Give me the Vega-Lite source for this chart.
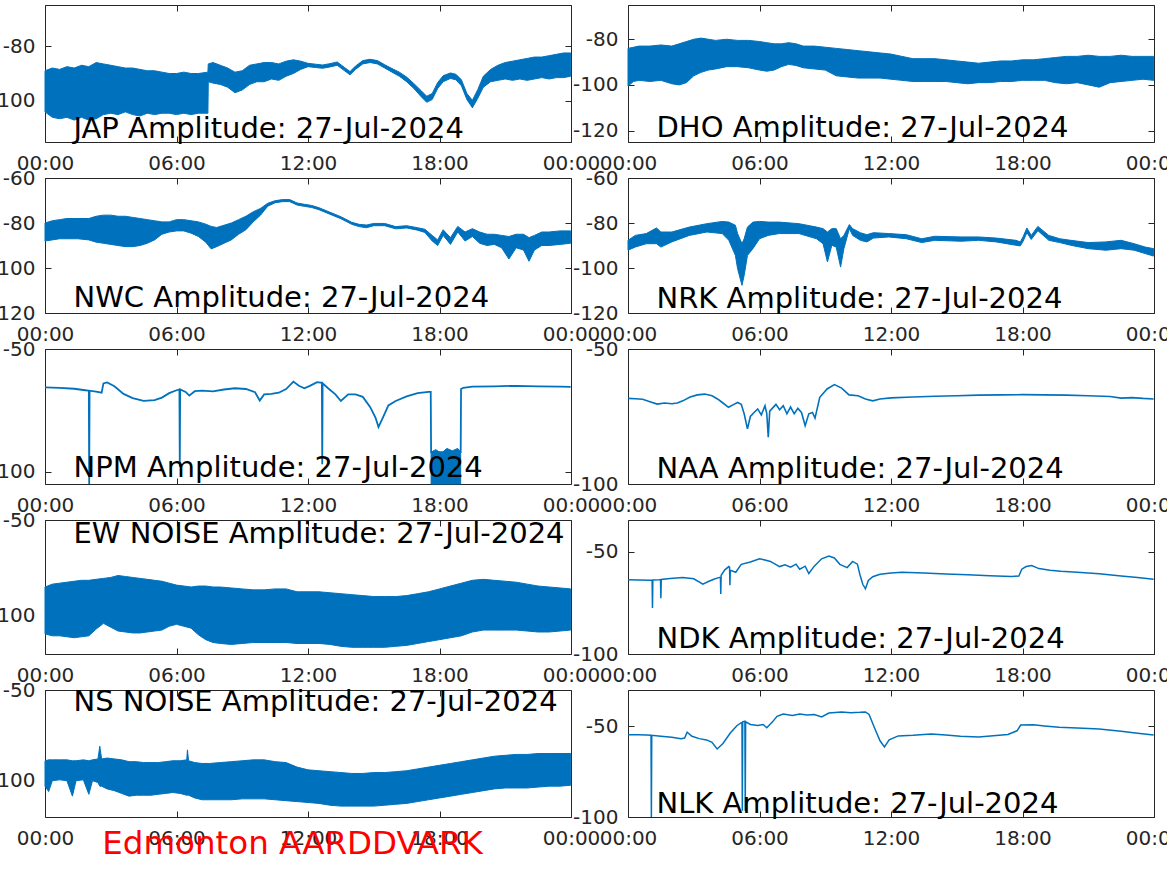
{
"$schema":"https://vega.github.io/schema/vega-lite/v6.json",
"background":"white",
"padding":{"left":-11,"top":4,"right":-15,"bottom":0},
"config":{
 "view":{"stroke":"#262626","strokeWidth":1},
 "axis":{"domain":false,"grid":false,"ticks":true,"tickSize":-6,"tickColor":"#262626","tickWidth":1,"labelFont":"DejaVu Sans","labelFontSize":20,"labelColor":"#262626","labelPadding":16},
 "axisX":{"labelFlush":false,"labelOverlap":false,"labelPadding":17}
},
"datasets":{
"jap":[{"t":"00:00","lo":-104,"hi":-89},{"t":"00:20","lo":-106,"hi":-88},{"t":"00:40","lo":-106.5,"hi":-88.5},{"t":"01:00","lo":-106,"hi":-87.5},{"t":"01:20","lo":-107,"hi":-88},{"t":"01:40","lo":-106,"hi":-87},{"t":"02:00","lo":-107,"hi":-87.5},{"t":"02:20","lo":-106.5,"hi":-86},{"t":"02:40","lo":-105,"hi":-86.5},{"t":"03:00","lo":-104.5,"hi":-87},{"t":"03:20","lo":-105,"hi":-87.5},{"t":"03:40","lo":-104,"hi":-88},{"t":"04:00","lo":-105,"hi":-88},{"t":"04:20","lo":-105.5,"hi":-88.5},{"t":"04:40","lo":-104.5,"hi":-89},{"t":"05:00","lo":-105,"hi":-89},{"t":"05:20","lo":-104.5,"hi":-89.5},{"t":"05:40","lo":-104.5,"hi":-90},{"t":"06:00","lo":-105,"hi":-90},{"t":"06:20","lo":-104.5,"hi":-89.5},{"t":"06:40","lo":-105,"hi":-90},{"t":"07:00","lo":-104.5,"hi":-90},{"t":"07:26","lo":-104.5,"hi":-89.5},{"t":"07:27","lo":-93,"hi":-86.5},{"t":"07:40","lo":-93.5,"hi":-86},{"t":"08:00","lo":-94,"hi":-87},{"t":"08:20","lo":-95,"hi":-88},{"t":"08:40","lo":-97,"hi":-89.5},{"t":"09:00","lo":-96,"hi":-89},{"t":"09:20","lo":-94,"hi":-87},{"t":"09:40","lo":-93,"hi":-86.5},{"t":"10:00","lo":-93,"hi":-86},{"t":"10:20","lo":-92,"hi":-86},{"t":"10:40","lo":-92.5,"hi":-86.5},{"t":"11:00","lo":-91,"hi":-85.5},{"t":"11:20","lo":-90,"hi":-85},{"t":"11:40","lo":-88.5,"hi":-85.5},{"t":"12:00","lo":-87.5,"hi":-86.3},{"t":"12:20","lo":-87.8,"hi":-86.6},{"t":"12:40","lo":-88.1,"hi":-86.9},{"t":"13:00","lo":-87.6,"hi":-86.4},{"t":"13:20","lo":-87,"hi":-85.8},{"t":"13:40","lo":-89,"hi":-87.8},{"t":"13:55","lo":-90.5,"hi":-89.3},{"t":"14:10","lo":-88.5,"hi":-87.3},{"t":"14:30","lo":-86.5,"hi":-85.3},{"t":"14:50","lo":-86,"hi":-84.8},{"t":"15:10","lo":-86.5,"hi":-85.3},{"t":"15:30","lo":-88,"hi":-86.8},{"t":"15:50","lo":-89.5,"hi":-88.2},{"t":"16:10","lo":-91,"hi":-89.5},{"t":"16:30","lo":-93,"hi":-91.3},{"t":"16:50","lo":-95.5,"hi":-93.7},{"t":"17:10","lo":-98.5,"hi":-96.3},{"t":"17:25","lo":-100.5,"hi":-98.3},{"t":"17:40","lo":-99.5,"hi":-97.3},{"t":"17:55","lo":-95.5,"hi":-93.3},{"t":"18:10","lo":-93,"hi":-90.8},{"t":"18:30","lo":-91.8,"hi":-89.8},{"t":"18:45","lo":-92.3,"hi":-90.3},{"t":"19:00","lo":-94.5,"hi":-92.3},{"t":"19:15","lo":-99.5,"hi":-97.3},{"t":"19:30","lo":-102.5,"hi":-99.8},{"t":"19:45","lo":-99,"hi":-95.8},{"t":"20:00","lo":-95,"hi":-91},{"t":"20:20","lo":-93,"hi":-88.5},{"t":"20:40","lo":-92.5,"hi":-87},{"t":"21:00","lo":-92,"hi":-86},{"t":"21:20","lo":-92.5,"hi":-85.5},{"t":"21:40","lo":-92,"hi":-85},{"t":"22:00","lo":-92.5,"hi":-84.5},{"t":"22:20","lo":-92,"hi":-84},{"t":"22:40","lo":-91.5,"hi":-84},{"t":"23:00","lo":-92,"hi":-83.5},{"t":"23:20","lo":-91.5,"hi":-83},{"t":"23:40","lo":-91.5,"hi":-82.5},{"t":"23:59","lo":-91,"hi":-82.5}],
"dho":[{"t":"00:00","lo":-100.5,"hi":-84},{"t":"00:15","lo":-98.5,"hi":-83.5},{"t":"00:30","lo":-98,"hi":-83},{"t":"01:00","lo":-98.5,"hi":-83},{"t":"01:30","lo":-98,"hi":-82.5},{"t":"02:00","lo":-99.5,"hi":-83},{"t":"02:20","lo":-100,"hi":-82},{"t":"02:40","lo":-99,"hi":-81},{"t":"03:00","lo":-96,"hi":-80},{"t":"03:20","lo":-94.5,"hi":-79.5},{"t":"03:40","lo":-93.5,"hi":-80},{"t":"04:00","lo":-93,"hi":-80.5},{"t":"04:30","lo":-92,"hi":-80},{"t":"05:00","lo":-92,"hi":-80.5},{"t":"05:30","lo":-92.5,"hi":-80.5},{"t":"06:00","lo":-93.5,"hi":-81},{"t":"06:20","lo":-94,"hi":-81.5},{"t":"06:40","lo":-93.5,"hi":-82},{"t":"07:00","lo":-92,"hi":-82},{"t":"07:20","lo":-91,"hi":-81.5},{"t":"07:40","lo":-91.5,"hi":-82},{"t":"08:00","lo":-92.5,"hi":-83},{"t":"08:30","lo":-93,"hi":-83},{"t":"09:00","lo":-93.5,"hi":-83.5},{"t":"09:30","lo":-96,"hi":-84},{"t":"10:00","lo":-96.5,"hi":-84.5},{"t":"10:30","lo":-97,"hi":-85},{"t":"11:00","lo":-97,"hi":-85.5},{"t":"11:30","lo":-97,"hi":-86},{"t":"12:00","lo":-97.5,"hi":-86.5},{"t":"12:30","lo":-98,"hi":-87.5},{"t":"13:00","lo":-98.5,"hi":-88.5},{"t":"13:30","lo":-98.5,"hi":-88.5},{"t":"14:00","lo":-98.5,"hi":-88.5},{"t":"14:30","lo":-98.5,"hi":-89},{"t":"15:00","lo":-99,"hi":-89.5},{"t":"15:30","lo":-99.5,"hi":-90},{"t":"16:00","lo":-99,"hi":-90.5},{"t":"16:30","lo":-99,"hi":-90},{"t":"17:00","lo":-98.5,"hi":-89.5},{"t":"17:30","lo":-98.5,"hi":-89.5},{"t":"18:00","lo":-98,"hi":-89},{"t":"18:30","lo":-98,"hi":-89},{"t":"19:00","lo":-98,"hi":-88.5},{"t":"19:30","lo":-99,"hi":-88},{"t":"20:00","lo":-99.5,"hi":-87.5},{"t":"20:30","lo":-99,"hi":-87.5},{"t":"21:00","lo":-100,"hi":-87},{"t":"21:30","lo":-101,"hi":-87.5},{"t":"22:00","lo":-99,"hi":-87.5},{"t":"22:30","lo":-98.5,"hi":-87},{"t":"23:00","lo":-98,"hi":-87.5},{"t":"23:30","lo":-97.5,"hi":-87.5},{"t":"23:59","lo":-98,"hi":-87.5}],
"nwc":[{"t":"00:00","lo":-88,"hi":-80},{"t":"00:20","lo":-87.5,"hi":-79},{"t":"00:40","lo":-87,"hi":-78.5},{"t":"01:00","lo":-87,"hi":-78},{"t":"01:30","lo":-87,"hi":-78},{"t":"02:00","lo":-87.5,"hi":-78},{"t":"02:20","lo":-88.5,"hi":-77},{"t":"02:40","lo":-89,"hi":-76.5},{"t":"03:00","lo":-89.5,"hi":-76.5},{"t":"03:20","lo":-90,"hi":-77},{"t":"03:40","lo":-90.5,"hi":-77},{"t":"04:00","lo":-90.5,"hi":-77.5},{"t":"04:20","lo":-90,"hi":-78},{"t":"04:40","lo":-89,"hi":-78.5},{"t":"05:00","lo":-87.5,"hi":-79},{"t":"05:20","lo":-85,"hi":-79.5},{"t":"05:40","lo":-84,"hi":-79.5},{"t":"06:00","lo":-83.5,"hi":-78.5},{"t":"06:20","lo":-83.5,"hi":-78.5},{"t":"06:40","lo":-84.5,"hi":-79},{"t":"07:00","lo":-86,"hi":-79.5},{"t":"07:20","lo":-88.5,"hi":-80.5},{"t":"07:35","lo":-91.5,"hi":-81.5},{"t":"07:50","lo":-90.5,"hi":-82},{"t":"08:10","lo":-89,"hi":-81},{"t":"08:30","lo":-87.5,"hi":-80},{"t":"08:50","lo":-85,"hi":-78.5},{"t":"09:10","lo":-83,"hi":-77},{"t":"09:30","lo":-79.5,"hi":-75},{"t":"09:50","lo":-76.5,"hi":-73.5},{"t":"10:10","lo":-72.5,"hi":-71.2},{"t":"10:30","lo":-71,"hi":-70.1},{"t":"10:50","lo":-70.5,"hi":-69.6},{"t":"11:10","lo":-70.5,"hi":-69.6},{"t":"11:30","lo":-72,"hi":-71.1},{"t":"11:50","lo":-72.6,"hi":-71.7},{"t":"12:10","lo":-73.1,"hi":-72.2},{"t":"12:30","lo":-74.1,"hi":-73.2},{"t":"13:00","lo":-76.1,"hi":-75.2},{"t":"13:30","lo":-78.1,"hi":-77.2},{"t":"14:00","lo":-80.6,"hi":-79.7},{"t":"14:20","lo":-81.6,"hi":-80.6},{"t":"14:40","lo":-82.1,"hi":-80.9},{"t":"15:00","lo":-81.2,"hi":-80.2},{"t":"15:30","lo":-81.2,"hi":-80.2},{"t":"16:00","lo":-82.6,"hi":-81.6},{"t":"16:30","lo":-82.2,"hi":-81.2},{"t":"17:00","lo":-83.2,"hi":-82.1},{"t":"17:20","lo":-84.2,"hi":-82.8},{"t":"17:40","lo":-88,"hi":-85.5},{"t":"17:55","lo":-90,"hi":-87.5},{"t":"18:10","lo":-85.5,"hi":-83},{"t":"18:30","lo":-89.5,"hi":-86.5},{"t":"18:50","lo":-84,"hi":-81.5},{"t":"19:10","lo":-88,"hi":-84},{"t":"19:30","lo":-86,"hi":-82.5},{"t":"19:50","lo":-89,"hi":-84},{"t":"20:10","lo":-90,"hi":-85},{"t":"20:30","lo":-89.5,"hi":-85},{"t":"20:50","lo":-91,"hi":-85.5},{"t":"21:10","lo":-96,"hi":-86},{"t":"21:30","lo":-91,"hi":-85},{"t":"21:50","lo":-92,"hi":-85},{"t":"22:05","lo":-97,"hi":-86.5},{"t":"22:20","lo":-92,"hi":-85.5},{"t":"22:40","lo":-90,"hi":-84},{"t":"23:00","lo":-90,"hi":-84},{"t":"23:30","lo":-89.5,"hi":-83.5},{"t":"23:59","lo":-89,"hi":-83.5}],
"nrk":[{"t":"00:00","lo":-92.1,"hi":-87.7},{"t":"00:20","lo":-90.7,"hi":-85.5},{"t":"00:50","lo":-89.2,"hi":-84.7},{"t":"01:18","lo":-89.2,"hi":-82.2},{"t":"01:30","lo":-90.7,"hi":-84},{"t":"02:00","lo":-88.4,"hi":-84},{"t":"02:48","lo":-85.5,"hi":-81.8},{"t":"03:36","lo":-84,"hi":-80.3},{"t":"04:18","lo":-84.7,"hi":-79.3},{"t":"04:36","lo":-87.7,"hi":-79.6},{"t":"04:54","lo":-94.4,"hi":-81},{"t":"05:00","lo":-100.3,"hi":-84.7},{"t":"05:12","lo":-107.7,"hi":-89.2},{"t":"05:18","lo":-103.3,"hi":-87},{"t":"05:27","lo":-94.4,"hi":-81.8},{"t":"05:42","lo":-91.4,"hi":-79.6},{"t":"06:00","lo":-87,"hi":-79.3},{"t":"06:24","lo":-85.5,"hi":-79.6},{"t":"06:54","lo":-84.7,"hi":-79.6},{"t":"07:48","lo":-84.7,"hi":-80.3},{"t":"08:36","lo":-87,"hi":-81.8},{"t":"08:54","lo":-89.2,"hi":-82.5},{"t":"09:06","lo":-97.3,"hi":-84},{"t":"09:18","lo":-89.9,"hi":-82.5},{"t":"09:30","lo":-90.7,"hi":-82.5},{"t":"09:42","lo":-99.6,"hi":-87},{"t":"09:51","lo":-91.4,"hi":-85.5},{"t":"10:06","lo":-82.5,"hi":-80.7},{"t":"10:15","lo":-85.5,"hi":-82.5},{"t":"10:36","lo":-87.7,"hi":-84.3},{"t":"10:54","lo":-88.4,"hi":-85.2},{"t":"11:12","lo":-86.7,"hi":-84.3},{"t":"11:54","lo":-86.2,"hi":-84.7},{"t":"12:42","lo":-87,"hi":-85.2},{"t":"13:24","lo":-88.7,"hi":-87},{"t":"14:00","lo":-87.7,"hi":-85.9},{"t":"15:12","lo":-88.1,"hi":-86.2},{"t":"16:00","lo":-87.7,"hi":-86.2},{"t":"16:48","lo":-88.4,"hi":-86.7},{"t":"17:42","lo":-89.9,"hi":-87.7},{"t":"17:54","lo":-90.2,"hi":-88.4},{"t":"18:02","lo":-88,"hi":-86},{"t":"18:12","lo":-84.3,"hi":-82.2},{"t":"18:24","lo":-87.3,"hi":-85.5},{"t":"18:42","lo":-83.4,"hi":-81.5},{"t":"19:12","lo":-87.7,"hi":-85.5},{"t":"19:42","lo":-88.7,"hi":-87},{"t":"20:12","lo":-89.9,"hi":-87.7},{"t":"21:00","lo":-91.4,"hi":-88.7},{"t":"21:48","lo":-92.1,"hi":-88.4},{"t":"22:30","lo":-91.4,"hi":-87.7},{"t":"23:06","lo":-92.1,"hi":-89.2},{"t":"23:36","lo":-93.6,"hi":-90.7},{"t":"23:59","lo":-94.7,"hi":-91.4}],
"npm":[{"t":"00:00","v":-65.6},{"t":"00:40","v":-65.8},{"t":"01:20","v":-66.2},{"t":"01:50","v":-66.8},{"t":"02:00","v":-67},{"t":"02:01","v":-105},{"t":"02:02","v":-67},{"t":"02:20","v":-67.4},{"t":"02:35","v":-67.8},{"t":"02:40","v":-64},{"t":"02:50","v":-63.6},{"t":"03:10","v":-65.2},{"t":"03:35","v":-68.3},{"t":"04:00","v":-70},{"t":"04:30","v":-71.1},{"t":"05:00","v":-70.8},{"t":"05:20","v":-69.8},{"t":"05:40","v":-68},{"t":"06:00","v":-66.8},{"t":"06:08","v":-66.5},{"t":"06:09","v":-98},{"t":"06:10","v":-66.5},{"t":"06:25","v":-67.5},{"t":"06:35","v":-69},{"t":"06:50","v":-67.2},{"t":"07:10","v":-67},{"t":"07:40","v":-67.3},{"t":"08:10","v":-66.5},{"t":"08:40","v":-66},{"t":"09:10","v":-66.3},{"t":"09:35","v":-67.6},{"t":"09:48","v":-71},{"t":"10:00","v":-68.5},{"t":"10:20","v":-68.3},{"t":"10:40","v":-67.8},{"t":"11:00","v":-66.3},{"t":"11:20","v":-63.3},{"t":"11:35","v":-65},{"t":"11:50","v":-66},{"t":"12:05","v":-65},{"t":"12:25","v":-63.5},{"t":"12:38","v":-63.8},{"t":"12:39","v":-97},{"t":"12:40","v":-64},{"t":"12:55","v":-66},{"t":"13:15","v":-68.5},{"t":"13:30","v":-71.2},{"t":"13:50","v":-68.5},{"t":"14:10","v":-68.5},{"t":"14:30","v":-69.5},{"t":"14:50","v":-73.6},{"t":"15:05","v":-78},{"t":"15:13","v":-81.8},{"t":"15:25","v":-78},{"t":"15:40","v":-73},{"t":"16:00","v":-71.2},{"t":"16:30","v":-69.3},{"t":"17:00","v":-68},{"t":"17:30","v":-67.5},{"t":"17:36","v":-67.5},{"t":"17:37","v":-92},{"t":"18:58","v":-92},{"t":"18:59","v":-66.3},{"t":"19:05","v":-65.8},{"t":"19:30","v":-65.3},{"t":"20:30","v":-65.2},{"t":"21:30","v":-65},{"t":"22:30","v":-65.2},{"t":"23:30","v":-65.3},{"t":"23:59","v":-65.4},{"t":"17:37","lo":-105,"hi":-92},{"t":"17:50","lo":-105,"hi":-91},{"t":"18:05","lo":-105,"hi":-92.5},{"t":"18:20","lo":-105,"hi":-90.5},{"t":"18:35","lo":-105,"hi":-91.5},{"t":"18:50","lo":-105,"hi":-90.5},{"t":"18:58","lo":-105,"hi":-92}],
"naa":[{"t":"00:00","v":-68.3},{"t":"00:20","v":-68.4},{"t":"00:40","v":-68.6},{"t":"01:00","v":-69.5},{"t":"01:20","v":-70.4},{"t":"01:40","v":-70},{"t":"02:00","v":-70.3},{"t":"02:15","v":-70},{"t":"02:30","v":-69.2},{"t":"02:50","v":-67.8},{"t":"03:10","v":-67},{"t":"03:30","v":-66.7},{"t":"03:50","v":-67.3},{"t":"04:05","v":-68.5},{"t":"04:20","v":-70},{"t":"04:35","v":-71.6},{"t":"04:50","v":-70.5},{"t":"05:00","v":-69.8},{"t":"05:10","v":-70.5},{"t":"05:18","v":-74},{"t":"05:27","v":-79.6},{"t":"05:35","v":-75},{"t":"05:45","v":-73.5},{"t":"05:55","v":-72.2},{"t":"06:05","v":-74.4},{"t":"06:15","v":-71},{"t":"06:20","v":-74},{"t":"06:24","v":-82.7},{"t":"06:28","v":-73},{"t":"06:35","v":-72},{"t":"06:45","v":-70.5},{"t":"06:55","v":-72.5},{"t":"07:05","v":-71},{"t":"07:15","v":-74},{"t":"07:25","v":-71.5},{"t":"07:35","v":-74},{"t":"07:45","v":-72},{"t":"07:55","v":-73.5},{"t":"08:05","v":-78.4},{"t":"08:15","v":-74},{"t":"08:25","v":-73.5},{"t":"08:32","v":-75.6},{"t":"08:45","v":-67.9},{"t":"09:05","v":-64.8},{"t":"09:25","v":-63.2},{"t":"09:45","v":-64.5},{"t":"10:05","v":-67},{"t":"10:30","v":-67.3},{"t":"10:50","v":-68.5},{"t":"11:10","v":-69.2},{"t":"11:30","v":-68.5},{"t":"12:00","v":-68.1},{"t":"13:00","v":-67.8},{"t":"14:00","v":-67.5},{"t":"15:00","v":-67.3},{"t":"16:00","v":-67.1},{"t":"17:00","v":-67},{"t":"18:00","v":-66.9},{"t":"19:00","v":-67},{"t":"20:00","v":-67.1},{"t":"21:00","v":-67.3},{"t":"22:00","v":-67.6},{"t":"22:30","v":-68.2},{"t":"23:00","v":-68},{"t":"23:30","v":-68.3},{"t":"23:59","v":-68.5}],
"ew":[{"t":"00:00","lo":-109.5,"hi":-85},{"t":"00:20","lo":-110.5,"hi":-83.5},{"t":"00:40","lo":-110.5,"hi":-83},{"t":"01:00","lo":-111,"hi":-82.5},{"t":"01:20","lo":-111.5,"hi":-82},{"t":"01:40","lo":-111,"hi":-81.5},{"t":"02:00","lo":-110.5,"hi":-81.5},{"t":"02:20","lo":-107,"hi":-81},{"t":"02:40","lo":-104,"hi":-80.5},{"t":"03:00","lo":-106,"hi":-80},{"t":"03:20","lo":-108,"hi":-79},{"t":"03:40","lo":-108.5,"hi":-79.5},{"t":"04:00","lo":-109,"hi":-80},{"t":"04:20","lo":-109,"hi":-80.5},{"t":"04:40","lo":-108.5,"hi":-81},{"t":"05:00","lo":-108,"hi":-81.5},{"t":"05:20","lo":-107.5,"hi":-82},{"t":"05:40","lo":-105.5,"hi":-83},{"t":"06:00","lo":-104.5,"hi":-84},{"t":"06:20","lo":-105.5,"hi":-84.5},{"t":"06:40","lo":-106.5,"hi":-85},{"t":"07:00","lo":-110,"hi":-84.5},{"t":"07:20","lo":-112.5,"hi":-84.5},{"t":"07:40","lo":-114,"hi":-85},{"t":"08:00","lo":-114.5,"hi":-85},{"t":"08:30","lo":-115,"hi":-85.5},{"t":"09:00","lo":-114.5,"hi":-86},{"t":"09:30","lo":-114,"hi":-86.5},{"t":"10:00","lo":-114,"hi":-86.5},{"t":"10:30","lo":-114,"hi":-86},{"t":"11:00","lo":-114,"hi":-86},{"t":"11:30","lo":-114.5,"hi":-87.5},{"t":"12:00","lo":-114.5,"hi":-87.5},{"t":"12:30","lo":-114.5,"hi":-87.5},{"t":"13:00","lo":-115,"hi":-88},{"t":"13:30","lo":-116,"hi":-88.5},{"t":"14:00","lo":-116.5,"hi":-89},{"t":"14:30","lo":-116.5,"hi":-89.5},{"t":"15:00","lo":-116.5,"hi":-90},{"t":"15:30","lo":-116.5,"hi":-90},{"t":"16:00","lo":-116,"hi":-90},{"t":"16:30","lo":-115.5,"hi":-89.5},{"t":"17:00","lo":-114.5,"hi":-88.5},{"t":"17:30","lo":-113.5,"hi":-87.5},{"t":"18:00","lo":-112.5,"hi":-86},{"t":"18:30","lo":-111.5,"hi":-84.5},{"t":"19:00","lo":-110.5,"hi":-83},{"t":"19:30","lo":-108.5,"hi":-81.5},{"t":"20:00","lo":-107.5,"hi":-81},{"t":"20:30","lo":-107.5,"hi":-81.5},{"t":"21:00","lo":-107.5,"hi":-82},{"t":"21:30","lo":-107.5,"hi":-82.5},{"t":"22:00","lo":-108,"hi":-83.5},{"t":"22:30","lo":-108.5,"hi":-84.5},{"t":"23:00","lo":-108.5,"hi":-85},{"t":"23:30","lo":-108,"hi":-85.5},{"t":"23:59","lo":-107.5,"hi":-86}],
"ndk":[{"t":"00:00","v":-63.7},{"t":"00:30","v":-63.8},{"t":"01:00","v":-63.9},{"t":"01:06","v":-63.9},{"t":"01:07","v":-77.5},{"t":"01:08","v":-63.8},{"t":"01:25","v":-63.7},{"t":"01:29","v":-63.6},{"t":"01:30","v":-72.7},{"t":"01:31","v":-63.5},{"t":"01:55","v":-63},{"t":"02:30","v":-62.5},{"t":"03:00","v":-63.2},{"t":"03:25","v":-65.8},{"t":"03:40","v":-64.5},{"t":"03:55","v":-63.4},{"t":"04:10","v":-62.5},{"t":"04:13","v":-62.5},{"t":"04:14","v":-70.6},{"t":"04:15","v":-61.5},{"t":"04:25","v":-58.8},{"t":"04:36","v":-57.2},{"t":"04:38","v":-57.5},{"t":"04:39","v":-66.3},{"t":"04:40","v":-59},{"t":"04:55","v":-60},{"t":"05:10","v":-56.1},{"t":"05:35","v":-55},{"t":"06:00","v":-53.4},{"t":"06:15","v":-54},{"t":"06:30","v":-54.7},{"t":"06:55","v":-57.2},{"t":"07:10","v":-56.3},{"t":"07:25","v":-57.5},{"t":"07:40","v":-56},{"t":"07:50","v":-58.5},{"t":"08:05","v":-57},{"t":"08:15","v":-60.6},{"t":"08:30","v":-57},{"t":"08:50","v":-53.4},{"t":"09:10","v":-52.1},{"t":"09:25","v":-53},{"t":"09:40","v":-56.1},{"t":"10:00","v":-57.7},{"t":"10:15","v":-54.7},{"t":"10:28","v":-56},{"t":"10:35","v":-61.2},{"t":"10:43","v":-66},{"t":"10:50","v":-68.1},{"t":"10:58","v":-64},{"t":"11:10","v":-62.2},{"t":"11:30","v":-61},{"t":"12:00","v":-60.3},{"t":"12:30","v":-60},{"t":"13:30","v":-60.3},{"t":"14:30","v":-60.8},{"t":"15:30","v":-61.2},{"t":"16:30","v":-61.7},{"t":"17:30","v":-62},{"t":"17:50","v":-61.8},{"t":"17:58","v":-58.5},{"t":"18:10","v":-57.2},{"t":"18:25","v":-56.7},{"t":"18:45","v":-58.2},{"t":"19:15","v":-59},{"t":"19:45","v":-59.5},{"t":"20:30","v":-60},{"t":"21:30","v":-60.7},{"t":"22:30","v":-61.8},{"t":"23:15","v":-62.6},{"t":"23:59","v":-63.4}],
"ns":[{"t":"00:00","lo":-103,"hi":-89},{"t":"00:10","lo":-106,"hi":-88.5},{"t":"00:20","lo":-100,"hi":-88.5},{"t":"00:40","lo":-99.5,"hi":-88.5},{"t":"01:00","lo":-100,"hi":-88.5},{"t":"01:15","lo":-108.5,"hi":-89},{"t":"01:25","lo":-100,"hi":-89},{"t":"01:45","lo":-99.5,"hi":-88.5},{"t":"02:00","lo":-107.5,"hi":-89},{"t":"02:10","lo":-100,"hi":-88.5},{"t":"02:25","lo":-101,"hi":-88},{"t":"02:30","lo":-103,"hi":-81},{"t":"02:35","lo":-103,"hi":-88},{"t":"02:50","lo":-104.5,"hi":-87.5},{"t":"03:10","lo":-105.5,"hi":-88},{"t":"03:30","lo":-107,"hi":-88.5},{"t":"03:50","lo":-108.5,"hi":-89.5},{"t":"04:10","lo":-108,"hi":-89.5},{"t":"04:30","lo":-108,"hi":-90},{"t":"04:50","lo":-108,"hi":-90},{"t":"05:10","lo":-107.5,"hi":-90},{"t":"05:30","lo":-107,"hi":-89.5},{"t":"05:50","lo":-106.5,"hi":-89},{"t":"06:10","lo":-107,"hi":-89},{"t":"06:28","lo":-108,"hi":-88.5},{"t":"06:30","lo":-108,"hi":-83},{"t":"06:33","lo":-108,"hi":-89},{"t":"06:50","lo":-109.5,"hi":-90},{"t":"07:10","lo":-110.5,"hi":-90.5},{"t":"07:30","lo":-110.5,"hi":-90.5},{"t":"08:00","lo":-110.5,"hi":-90},{"t":"08:30","lo":-110.5,"hi":-89.5},{"t":"09:00","lo":-110,"hi":-89},{"t":"09:30","lo":-110,"hi":-88.5},{"t":"10:00","lo":-110,"hi":-88.5},{"t":"10:30","lo":-110.5,"hi":-89.5},{"t":"11:00","lo":-111,"hi":-90},{"t":"11:30","lo":-111.5,"hi":-92.5},{"t":"12:00","lo":-112,"hi":-94},{"t":"12:30","lo":-112.5,"hi":-94.5},{"t":"13:00","lo":-113.5,"hi":-95},{"t":"13:30","lo":-114,"hi":-95.5},{"t":"14:00","lo":-114,"hi":-96},{"t":"14:30","lo":-114,"hi":-96},{"t":"15:00","lo":-114,"hi":-95.5},{"t":"15:30","lo":-113.5,"hi":-95.5},{"t":"16:00","lo":-113,"hi":-95},{"t":"16:30","lo":-112.5,"hi":-94.5},{"t":"17:00","lo":-111.5,"hi":-93.5},{"t":"17:30","lo":-110.5,"hi":-92.5},{"t":"18:00","lo":-109.5,"hi":-91.5},{"t":"18:30","lo":-108.5,"hi":-90.5},{"t":"19:00","lo":-107.5,"hi":-89.5},{"t":"19:30","lo":-106.5,"hi":-88.5},{"t":"20:00","lo":-105.5,"hi":-87.5},{"t":"20:30","lo":-104.5,"hi":-86.5},{"t":"21:00","lo":-104,"hi":-86},{"t":"21:30","lo":-104,"hi":-85.5},{"t":"22:00","lo":-104,"hi":-85.5},{"t":"22:30","lo":-103.5,"hi":-85},{"t":"23:00","lo":-103,"hi":-85},{"t":"23:30","lo":-103,"hi":-85},{"t":"23:59","lo":-102.5,"hi":-85}],
"nlk":[{"t":"00:00","v":-54.6},{"t":"00:30","v":-54.7},{"t":"00:50","v":-54.8},{"t":"01:03","v":-54.9},{"t":"01:04","v":-100},{"t":"01:05","v":-55},{"t":"01:30","v":-55.5},{"t":"02:00","v":-56},{"t":"02:25","v":-56.8},{"t":"02:35","v":-56.5},{"t":"02:42","v":-53.3},{"t":"02:55","v":-55.5},{"t":"03:15","v":-56.8},{"t":"03:35","v":-57.5},{"t":"03:50","v":-58.8},{"t":"04:04","v":-62.5},{"t":"04:20","v":-59.5},{"t":"04:40","v":-53.7},{"t":"04:58","v":-49.7},{"t":"05:10","v":-48},{"t":"05:12","v":-48},{"t":"05:13","v":-96.5},{"t":"05:14","v":-47.5},{"t":"05:20","v":-47.2},{"t":"05:21","v":-96.5},{"t":"05:22","v":-47.5},{"t":"05:35","v":-49},{"t":"05:55","v":-49.5},{"t":"06:10","v":-49},{"t":"06:20","v":-50.8},{"t":"06:35","v":-47.7},{"t":"06:48","v":-44.5},{"t":"07:05","v":-43.3},{"t":"07:30","v":-44.1},{"t":"07:50","v":-43.3},{"t":"08:10","v":-43.8},{"t":"08:30","v":-43.5},{"t":"08:50","v":-44.9},{"t":"09:10","v":-42.7},{"t":"09:45","v":-42.1},{"t":"10:10","v":-42.5},{"t":"10:35","v":-42.3},{"t":"10:50","v":-42.1},{"t":"11:00","v":-43.5},{"t":"11:15","v":-50.9},{"t":"11:30","v":-58},{"t":"11:42","v":-61.4},{"t":"11:55","v":-57.5},{"t":"12:20","v":-55.3},{"t":"13:00","v":-55},{"t":"13:50","v":-54.2},{"t":"14:30","v":-54.8},{"t":"15:10","v":-55.5},{"t":"16:00","v":-55.9},{"t":"16:40","v":-55.2},{"t":"17:20","v":-54.5},{"t":"17:45","v":-52.5},{"t":"17:55","v":-49.3},{"t":"18:30","v":-49.2},{"t":"19:00","v":-49.8},{"t":"19:40","v":-50.5},{"t":"20:30","v":-51},{"t":"21:30","v":-51.5},{"t":"22:30","v":-52.8},{"t":"23:15","v":-53.8},{"t":"23:59","v":-54.8}]
},
"columns":2,
"spacing":{"row":36,"column":57},
"bounds":"flush",
"concat":[
{"width":526,"height":137,"data":{"name":"jap","format":{"parse":{"t":"date:'%H:%M'"}}},"layer":[
 {"mark":{"type":"area","color":"#0072BD","stroke":"#0072BD","strokeWidth":1},"encoding":{"x":{"field":"t","type":"temporal","scale":{"domain":[{"year":1900,"month":1,"date":1,"hours":0},{"year":1900,"month":1,"date":2,"hours":0}]},"axis":{"values":[{"year":1900,"month":1,"date":1,"hours":0},{"year":1900,"month":1,"date":1,"hours":6},{"year":1900,"month":1,"date":1,"hours":12},{"year":1900,"month":1,"date":1,"hours":18},{"year":1900,"month":1,"date":2,"hours":0}],"format":"%H:%M","title":null}},"y":{"field":"hi","type":"quantitative","scale":{"domain":[-115,-65],"nice":false,"zero":false},"axis":{"values":[-100,-80],"labelExpr":"''+datum.value","title":null}},"y2":{"field":"lo"}}},
 {"data":{"values":[{"label":"JAP Amplitude: 27-Jul-2024"}]},"mark":{"type":"text","align":"left","baseline":"alphabetic","font":"DejaVu Sans","fontSize":29,"color":"#000000"},"encoding":{"x":{"datum":{"year":1900,"month":1,"date":1,"hours":1,"minutes":18},"type":"temporal","scale":{"domain":[{"year":1900,"month":1,"date":1,"hours":0},{"year":1900,"month":1,"date":2,"hours":0}]},"axis":{"orient":"top","values":[{"year":1900,"month":1,"date":1,"hours":0},{"year":1900,"month":1,"date":1,"hours":6},{"year":1900,"month":1,"date":1,"hours":12},{"year":1900,"month":1,"date":1,"hours":18},{"year":1900,"month":1,"date":2,"hours":0}],"labels":false,"title":null}},"y":{"datum":-113.7,"type":"quantitative","scale":{"domain":[-115,-65],"nice":false,"zero":false},"axis":{"orient":"right","values":[-100,-80],"labels":false,"title":null}},"text":{"field":"label"}}}
],"resolve":{"axis":{"x":"independent","y":"independent"}}},
{"width":526,"height":137,"data":{"name":"dho","format":{"parse":{"t":"date:'%H:%M'"}}},"layer":[
 {"mark":{"type":"area","color":"#0072BD","stroke":"#0072BD","strokeWidth":1},"encoding":{"x":{"field":"t","type":"temporal","scale":{"domain":[{"year":1900,"month":1,"date":1,"hours":0},{"year":1900,"month":1,"date":2,"hours":0}]},"axis":{"values":[{"year":1900,"month":1,"date":1,"hours":0},{"year":1900,"month":1,"date":1,"hours":6},{"year":1900,"month":1,"date":1,"hours":12},{"year":1900,"month":1,"date":1,"hours":18},{"year":1900,"month":1,"date":2,"hours":0}],"format":"%H:%M","title":null}},"y":{"field":"hi","type":"quantitative","scale":{"domain":[-125,-65],"nice":false,"zero":false},"axis":{"values":[-120,-100,-80],"labelExpr":"''+datum.value","title":null}},"y2":{"field":"lo"}}},
 {"data":{"values":[{"label":"DHO Amplitude: 27-Jul-2024"}]},"mark":{"type":"text","align":"left","baseline":"alphabetic","font":"DejaVu Sans","fontSize":29,"color":"#000000"},"encoding":{"x":{"datum":{"year":1900,"month":1,"date":1,"hours":1,"minutes":18},"type":"temporal","scale":{"domain":[{"year":1900,"month":1,"date":1,"hours":0},{"year":1900,"month":1,"date":2,"hours":0}]},"axis":{"orient":"top","values":[{"year":1900,"month":1,"date":1,"hours":0},{"year":1900,"month":1,"date":1,"hours":6},{"year":1900,"month":1,"date":1,"hours":12},{"year":1900,"month":1,"date":1,"hours":18},{"year":1900,"month":1,"date":2,"hours":0}],"labels":false,"title":null}},"y":{"datum":-123,"type":"quantitative","scale":{"domain":[-125,-65],"nice":false,"zero":false},"axis":{"orient":"right","values":[-120,-100,-80],"labels":false,"title":null}},"text":{"field":"label"}}}
],"resolve":{"axis":{"x":"independent","y":"independent"}}},
{"width":526,"height":135,"data":{"name":"nwc","format":{"parse":{"t":"date:'%H:%M'"}}},"layer":[
 {"mark":{"type":"area","color":"#0072BD","stroke":"#0072BD","strokeWidth":1},"encoding":{"x":{"field":"t","type":"temporal","scale":{"domain":[{"year":1900,"month":1,"date":1,"hours":0},{"year":1900,"month":1,"date":2,"hours":0}]},"axis":{"values":[{"year":1900,"month":1,"date":1,"hours":0},{"year":1900,"month":1,"date":1,"hours":6},{"year":1900,"month":1,"date":1,"hours":12},{"year":1900,"month":1,"date":1,"hours":18},{"year":1900,"month":1,"date":2,"hours":0}],"format":"%H:%M","title":null}},"y":{"field":"hi","type":"quantitative","scale":{"domain":[-120,-60],"nice":false,"zero":false},"axis":{"values":[-120,-100,-80,-60],"labelExpr":"''+datum.value","title":null}},"y2":{"field":"lo"}}},
 {"data":{"values":[{"label":"NWC Amplitude: 27-Jul-2024"}]},"mark":{"type":"text","align":"left","baseline":"alphabetic","font":"DejaVu Sans","fontSize":29,"color":"#000000"},"encoding":{"x":{"datum":{"year":1900,"month":1,"date":1,"hours":1,"minutes":18},"type":"temporal","scale":{"domain":[{"year":1900,"month":1,"date":1,"hours":0},{"year":1900,"month":1,"date":2,"hours":0}]},"axis":{"orient":"top","values":[{"year":1900,"month":1,"date":1,"hours":0},{"year":1900,"month":1,"date":1,"hours":6},{"year":1900,"month":1,"date":1,"hours":12},{"year":1900,"month":1,"date":1,"hours":18},{"year":1900,"month":1,"date":2,"hours":0}],"labels":false,"title":null}},"y":{"datum":-117.2,"type":"quantitative","scale":{"domain":[-120,-60],"nice":false,"zero":false},"axis":{"orient":"right","values":[-120,-100,-80,-60],"labels":false,"title":null}},"text":{"field":"label"}}}
],"resolve":{"axis":{"x":"independent","y":"independent"}}},
{"width":526,"height":135,"data":{"name":"nrk","format":{"parse":{"t":"date:'%H:%M'"}}},"layer":[
 {"mark":{"type":"area","color":"#0072BD","stroke":"#0072BD","strokeWidth":1},"encoding":{"x":{"field":"t","type":"temporal","scale":{"domain":[{"year":1900,"month":1,"date":1,"hours":0},{"year":1900,"month":1,"date":2,"hours":0}]},"axis":{"values":[{"year":1900,"month":1,"date":1,"hours":0},{"year":1900,"month":1,"date":1,"hours":6},{"year":1900,"month":1,"date":1,"hours":12},{"year":1900,"month":1,"date":1,"hours":18},{"year":1900,"month":1,"date":2,"hours":0}],"format":"%H:%M","title":null}},"y":{"field":"hi","type":"quantitative","scale":{"domain":[-120,-60],"nice":false,"zero":false},"axis":{"values":[-120,-100,-80,-60],"labelExpr":"''+datum.value","title":null}},"y2":{"field":"lo"}}},
 {"data":{"values":[{"label":"NRK Amplitude: 27-Jul-2024"}]},"mark":{"type":"text","align":"left","baseline":"alphabetic","font":"DejaVu Sans","fontSize":29,"color":"#000000"},"encoding":{"x":{"datum":{"year":1900,"month":1,"date":1,"hours":1,"minutes":18},"type":"temporal","scale":{"domain":[{"year":1900,"month":1,"date":1,"hours":0},{"year":1900,"month":1,"date":2,"hours":0}]},"axis":{"orient":"top","values":[{"year":1900,"month":1,"date":1,"hours":0},{"year":1900,"month":1,"date":1,"hours":6},{"year":1900,"month":1,"date":1,"hours":12},{"year":1900,"month":1,"date":1,"hours":18},{"year":1900,"month":1,"date":2,"hours":0}],"labels":false,"title":null}},"y":{"datum":-117.8,"type":"quantitative","scale":{"domain":[-120,-60],"nice":false,"zero":false},"axis":{"orient":"right","values":[-120,-100,-80,-60],"labels":false,"title":null}},"text":{"field":"label"}}}
],"resolve":{"axis":{"x":"independent","y":"independent"}}},
{"width":526,"height":135,"data":{"name":"npm","format":{"parse":{"t":"date:'%H:%M'"}}},"layer":[
 {"transform":[{"filter":"isValid(datum.v)"}],"mark":{"type":"line","color":"#0072BD","strokeWidth":1.8},"encoding":{"x":{"field":"t","type":"temporal","scale":{"domain":[{"year":1900,"month":1,"date":1,"hours":0},{"year":1900,"month":1,"date":2,"hours":0}]},"axis":{"values":[{"year":1900,"month":1,"date":1,"hours":0},{"year":1900,"month":1,"date":1,"hours":6},{"year":1900,"month":1,"date":1,"hours":12},{"year":1900,"month":1,"date":1,"hours":18},{"year":1900,"month":1,"date":2,"hours":0}],"format":"%H:%M","title":null}},"y":{"field":"v","type":"quantitative","scale":{"domain":[-105,-50],"nice":false,"zero":false},"axis":{"values":[-100,-50],"labelExpr":"''+datum.value","title":null}}}},
 {"transform":[{"filter":"isValid(datum.hi)"}],"mark":{"type":"area","color":"#0072BD","stroke":"#0072BD","strokeWidth":1},"encoding":{"x":{"field":"t","type":"temporal","axis":null},"y":{"field":"hi","type":"quantitative","axis":null},"y2":{"field":"lo"}}},
 {"data":{"values":[{"label":"NPM Amplitude: 27-Jul-2024"}]},"mark":{"type":"text","align":"left","baseline":"alphabetic","font":"DejaVu Sans","fontSize":29,"color":"#000000"},"encoding":{"x":{"datum":{"year":1900,"month":1,"date":1,"hours":1,"minutes":18},"type":"temporal","scale":{"domain":[{"year":1900,"month":1,"date":1,"hours":0},{"year":1900,"month":1,"date":2,"hours":0}]},"axis":{"orient":"top","values":[{"year":1900,"month":1,"date":1,"hours":0},{"year":1900,"month":1,"date":1,"hours":6},{"year":1900,"month":1,"date":1,"hours":12},{"year":1900,"month":1,"date":1,"hours":18},{"year":1900,"month":1,"date":2,"hours":0}],"labels":false,"title":null}},"y":{"datum":-102.3,"type":"quantitative","scale":{"domain":[-105,-50],"nice":false,"zero":false},"axis":{"orient":"right","values":[-100,-50],"labels":false,"title":null}},"text":{"field":"label"}}}
],"resolve":{"axis":{"x":"independent","y":"independent"}}},
{"width":526,"height":135,"data":{"name":"naa","format":{"parse":{"t":"date:'%H:%M'"}}},"layer":[
 {"mark":{"type":"line","color":"#0072BD","strokeWidth":1.6},"encoding":{"x":{"field":"t","type":"temporal","scale":{"domain":[{"year":1900,"month":1,"date":1,"hours":0},{"year":1900,"month":1,"date":2,"hours":0}]},"axis":{"values":[{"year":1900,"month":1,"date":1,"hours":0},{"year":1900,"month":1,"date":1,"hours":6},{"year":1900,"month":1,"date":1,"hours":12},{"year":1900,"month":1,"date":1,"hours":18},{"year":1900,"month":1,"date":2,"hours":0}],"format":"%H:%M","title":null}},"y":{"field":"v","type":"quantitative","scale":{"domain":[-100,-50],"nice":false,"zero":false},"axis":{"values":[-100,-50],"labelExpr":"''+datum.value","title":null}}}},
 {"data":{"values":[{"label":"NAA Amplitude: 27-Jul-2024"}]},"mark":{"type":"text","align":"left","baseline":"alphabetic","font":"DejaVu Sans","fontSize":29,"color":"#000000"},"encoding":{"x":{"datum":{"year":1900,"month":1,"date":1,"hours":1,"minutes":18},"type":"temporal","scale":{"domain":[{"year":1900,"month":1,"date":1,"hours":0},{"year":1900,"month":1,"date":2,"hours":0}]},"axis":{"orient":"top","values":[{"year":1900,"month":1,"date":1,"hours":0},{"year":1900,"month":1,"date":1,"hours":6},{"year":1900,"month":1,"date":1,"hours":12},{"year":1900,"month":1,"date":1,"hours":18},{"year":1900,"month":1,"date":2,"hours":0}],"labels":false,"title":null}},"y":{"datum":-97.9,"type":"quantitative","scale":{"domain":[-100,-50],"nice":false,"zero":false},"axis":{"orient":"right","values":[-100,-50],"labels":false,"title":null}},"text":{"field":"label"}}}
],"resolve":{"axis":{"x":"independent","y":"independent"}}},
{"width":526,"height":134,"data":{"name":"ew","format":{"parse":{"t":"date:'%H:%M'"}}},"layer":[
 {"mark":{"type":"area","color":"#0072BD","stroke":"#0072BD","strokeWidth":1},"encoding":{"x":{"field":"t","type":"temporal","scale":{"domain":[{"year":1900,"month":1,"date":1,"hours":0},{"year":1900,"month":1,"date":2,"hours":0}]},"axis":{"values":[{"year":1900,"month":1,"date":1,"hours":0},{"year":1900,"month":1,"date":1,"hours":6},{"year":1900,"month":1,"date":1,"hours":12},{"year":1900,"month":1,"date":1,"hours":18},{"year":1900,"month":1,"date":2,"hours":0}],"format":"%H:%M","title":null}},"y":{"field":"hi","type":"quantitative","scale":{"domain":[-120,-50],"nice":false,"zero":false},"axis":{"values":[-100,-50],"labelExpr":"''+datum.value","title":null}},"y2":{"field":"lo"}}},
 {"data":{"values":[{"label":"EW NOISE Amplitude: 27-Jul-2024"}]},"mark":{"type":"text","align":"left","baseline":"alphabetic","font":"DejaVu Sans","fontSize":29,"color":"#000000"},"encoding":{"x":{"datum":{"year":1900,"month":1,"date":1,"hours":1,"minutes":18},"type":"temporal","scale":{"domain":[{"year":1900,"month":1,"date":1,"hours":0},{"year":1900,"month":1,"date":2,"hours":0}]},"axis":{"orient":"top","values":[{"year":1900,"month":1,"date":1,"hours":0},{"year":1900,"month":1,"date":1,"hours":6},{"year":1900,"month":1,"date":1,"hours":12},{"year":1900,"month":1,"date":1,"hours":18},{"year":1900,"month":1,"date":2,"hours":0}],"labels":false,"title":null}},"y":{"datum":-61.9,"type":"quantitative","scale":{"domain":[-120,-50],"nice":false,"zero":false},"axis":{"orient":"right","values":[-100,-50],"labels":false,"title":null}},"text":{"field":"label"}}}
],"resolve":{"axis":{"x":"independent","y":"independent"}}},
{"width":526,"height":134,"data":{"name":"ndk","format":{"parse":{"t":"date:'%H:%M'"}}},"layer":[
 {"mark":{"type":"line","color":"#0072BD","strokeWidth":1.5},"encoding":{"x":{"field":"t","type":"temporal","scale":{"domain":[{"year":1900,"month":1,"date":1,"hours":0},{"year":1900,"month":1,"date":2,"hours":0}]},"axis":{"values":[{"year":1900,"month":1,"date":1,"hours":0},{"year":1900,"month":1,"date":1,"hours":6},{"year":1900,"month":1,"date":1,"hours":12},{"year":1900,"month":1,"date":1,"hours":18},{"year":1900,"month":1,"date":2,"hours":0}],"format":"%H:%M","title":null}},"y":{"field":"v","type":"quantitative","scale":{"domain":[-100,-34.4],"nice":false,"zero":false},"axis":{"values":[-100,-50],"labelExpr":"''+datum.value","title":null}}}},
 {"data":{"values":[{"label":"NDK Amplitude: 27-Jul-2024"}]},"mark":{"type":"text","align":"left","baseline":"alphabetic","font":"DejaVu Sans","fontSize":29,"color":"#000000"},"encoding":{"x":{"datum":{"year":1900,"month":1,"date":1,"hours":1,"minutes":18},"type":"temporal","scale":{"domain":[{"year":1900,"month":1,"date":1,"hours":0},{"year":1900,"month":1,"date":2,"hours":0}]},"axis":{"orient":"top","values":[{"year":1900,"month":1,"date":1,"hours":0},{"year":1900,"month":1,"date":1,"hours":6},{"year":1900,"month":1,"date":1,"hours":12},{"year":1900,"month":1,"date":1,"hours":18},{"year":1900,"month":1,"date":2,"hours":0}],"labels":false,"title":null}},"y":{"datum":-97.1,"type":"quantitative","scale":{"domain":[-100,-34.4],"nice":false,"zero":false},"axis":{"orient":"right","values":[-100,-50],"labels":false,"title":null}},"text":{"field":"label"}}}
],"resolve":{"axis":{"x":"independent","y":"independent"}}},
{"width":526,"height":127,"data":{"name":"ns","format":{"parse":{"t":"date:'%H:%M'"}}},"layer":[
 {"mark":{"type":"area","color":"#0072BD","stroke":"#0072BD","strokeWidth":1},"encoding":{"x":{"field":"t","type":"temporal","scale":{"domain":[{"year":1900,"month":1,"date":1,"hours":0},{"year":1900,"month":1,"date":2,"hours":0}]},"axis":{"values":[{"year":1900,"month":1,"date":1,"hours":0},{"year":1900,"month":1,"date":1,"hours":6},{"year":1900,"month":1,"date":1,"hours":12},{"year":1900,"month":1,"date":1,"hours":18},{"year":1900,"month":1,"date":2,"hours":0}],"format":"%H:%M","title":"Edmonton AARDDVARK","titleColor":"#FF0000","titleFont":"DejaVu Sans","titleFontSize":32.5,"titleFontWeight":"normal","titleAlign":"center","titleBaseline":"alphabetic","titleX":247,"titleY":36}},"y":{"field":"hi","type":"quantitative","scale":{"domain":[-120,-50],"nice":false,"zero":false},"axis":{"values":[-100,-50],"labelExpr":"''+datum.value","title":null}},"y2":{"field":"lo"}}},
 {"data":{"values":[{"label":"NS NOISE Amplitude: 27-Jul-2024"}]},"mark":{"type":"text","align":"left","baseline":"alphabetic","font":"DejaVu Sans","fontSize":29,"color":"#000000"},"encoding":{"x":{"datum":{"year":1900,"month":1,"date":1,"hours":1,"minutes":18},"type":"temporal","scale":{"domain":[{"year":1900,"month":1,"date":1,"hours":0},{"year":1900,"month":1,"date":2,"hours":0}]},"axis":{"orient":"top","values":[{"year":1900,"month":1,"date":1,"hours":0},{"year":1900,"month":1,"date":1,"hours":6},{"year":1900,"month":1,"date":1,"hours":12},{"year":1900,"month":1,"date":1,"hours":18},{"year":1900,"month":1,"date":2,"hours":0}],"labels":false,"title":null}},"y":{"datum":-61.8,"type":"quantitative","scale":{"domain":[-120,-50],"nice":false,"zero":false},"axis":{"orient":"right","values":[-100,-50],"labels":false,"title":null}},"text":{"field":"label"}}}
],"resolve":{"axis":{"x":"independent","y":"independent"}}},
{"width":526,"height":127,"data":{"name":"nlk","format":{"parse":{"t":"date:'%H:%M'"}}},"layer":[
 {"mark":{"type":"line","color":"#0072BD","strokeWidth":1.5},"encoding":{"x":{"field":"t","type":"temporal","scale":{"domain":[{"year":1900,"month":1,"date":1,"hours":0},{"year":1900,"month":1,"date":2,"hours":0}]},"axis":{"values":[{"year":1900,"month":1,"date":1,"hours":0},{"year":1900,"month":1,"date":1,"hours":6},{"year":1900,"month":1,"date":1,"hours":12},{"year":1900,"month":1,"date":1,"hours":18},{"year":1900,"month":1,"date":2,"hours":0}],"format":"%H:%M","title":null}},"y":{"field":"v","type":"quantitative","scale":{"domain":[-100,-30],"nice":false,"zero":false},"axis":{"values":[-100,-50],"labelExpr":"''+datum.value","title":null}}}},
 {"data":{"values":[{"label":"NLK Amplitude: 27-Jul-2024"}]},"mark":{"type":"text","align":"left","baseline":"alphabetic","font":"DejaVu Sans","fontSize":29,"color":"#000000"},"encoding":{"x":{"datum":{"year":1900,"month":1,"date":1,"hours":1,"minutes":18},"type":"temporal","scale":{"domain":[{"year":1900,"month":1,"date":1,"hours":0},{"year":1900,"month":1,"date":2,"hours":0}]},"axis":{"orient":"top","values":[{"year":1900,"month":1,"date":1,"hours":0},{"year":1900,"month":1,"date":1,"hours":6},{"year":1900,"month":1,"date":1,"hours":12},{"year":1900,"month":1,"date":1,"hours":18},{"year":1900,"month":1,"date":2,"hours":0}],"labels":false,"title":null}},"y":{"datum":-97.6,"type":"quantitative","scale":{"domain":[-100,-30],"nice":false,"zero":false},"axis":{"orient":"right","values":[-100,-50],"labels":false,"title":null}},"text":{"field":"label"}}}
],"resolve":{"axis":{"x":"independent","y":"independent"}}}
]
}
